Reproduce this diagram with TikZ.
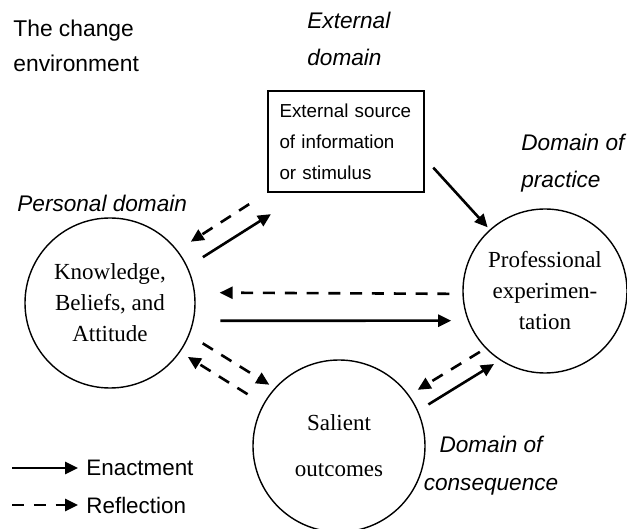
\documentclass[tikz,border=0pt]{standalone}
\usepackage{fontspec}
\setmainfont{Liberation Serif}
\setsansfont{Liberation Sans}
\usetikzlibrary{arrows.meta,calc}

\begin{document}
\begin{tikzpicture}[x=0.5pt,y=-0.5pt]

\tikzstyle{ci} = [circle, draw=black, line width=0.7pt, inner sep=0pt, align=center, font=\fontsize{11.5}{15.5}\selectfont]
\tikzstyle{bx} = [rectangle, draw=black, line width=1pt, minimum width=78pt, minimum height=50.5pt, text width=66pt, inner sep=6pt, align=left, font=\sffamily\fontsize{9.4}{15.5}\selectfont]
\tikzstyle{lb} = [align=left, inner sep=0pt, font=\sffamily\itshape\fontsize{11.3}{18.5}\selectfont]
\tikzstyle{lg} = [anchor=west, inner sep=0pt, font=\sffamily\fontsize{11.2}{13}\selectfont]
\tikzstyle{en} = [line width=1.3pt, -{Triangle[length=6.5pt,width=6pt]}]
\tikzstyle{re} = [en, dash pattern=on 6pt off 4.9pt]

\useasboundingbox (0,0) rectangle (627,529);

\node (know) [ci, minimum size=85pt] at (110,303) {Knowledge,\\Beliefs, and\\Attitude};
\node (prof) [ci, minimum size=82pt] at (545,291) {Professional\\experimen-\\tation};
\node (sal) [ci, minimum size=86pt, font=\fontsize{11.5}{23}\selectfont] at (339,446) {Salient\\outcomes};
\node (src) [bx] at (345.5,141.5) {External source\\of information\\or stimulus};

\node (chg) [lb, font=\sffamily\fontsize{11.4}{17.5}\selectfont, anchor=west] at (13,45.5) {The change\\environment};
\node (ext) [lb, anchor=west] at (307,38.5) {External\\domain};
\node (prac) [lb, anchor=west] at (521,163.5) {Domain of\\practice};
\node (pers) [lb, anchor=west] at (17,203) {Personal domain};
\node (cons) [lb, align=center, font=\sffamily\itshape\fontsize{11.3}{19}\selectfont] at (491,466) {Domain of\\consequence};

\coordinate (enl) at (12,468);
\node (enact) [lg] at (86,468) {Enactment};
\coordinate (rel) at (12,505);
\node (refl) [lg] at (86,505) {Reflection};
\draw[en, shorten >=4pt] (enl) -- (enact.west);
\draw[re, shorten >=4pt] (rel) -- (refl.west);

\draw[re, shorten <=10.3pt, shorten >=7.9pt] (src.south west) -- (know.38);
\draw[en, shorten <=9pt, shorten >=19.8pt] (know.25) -- ($(src.south west)!0.24!(src.south east)$);
\draw[en, shorten <=6.5pt, shorten >=1.5pt] ($(src.north east)!0.66!(src.south east)$) -- (prof.132);
\draw[re, shorten <=6.5pt, shorten >=12.3pt] (prof.182) -- (know.7);
\draw[en, shorten <=13.3pt, shorten >=8.3pt] (know.348) -- (prof.201);
\draw[re, shorten <=7.8pt, shorten >=3.1pt] (know.338) -- (sal.138);
\draw[re, shorten <=9.2pt, shorten >=4.5pt] (sal.151) -- (know.325);
\draw[re, shorten <=3.3pt, shorten >=5pt] (prof.224) -- (sal.36);
\draw[en, shorten <=6pt, shorten >=3.5pt] (sal.24) -- (prof.237);
\end{tikzpicture}
\end{document}
